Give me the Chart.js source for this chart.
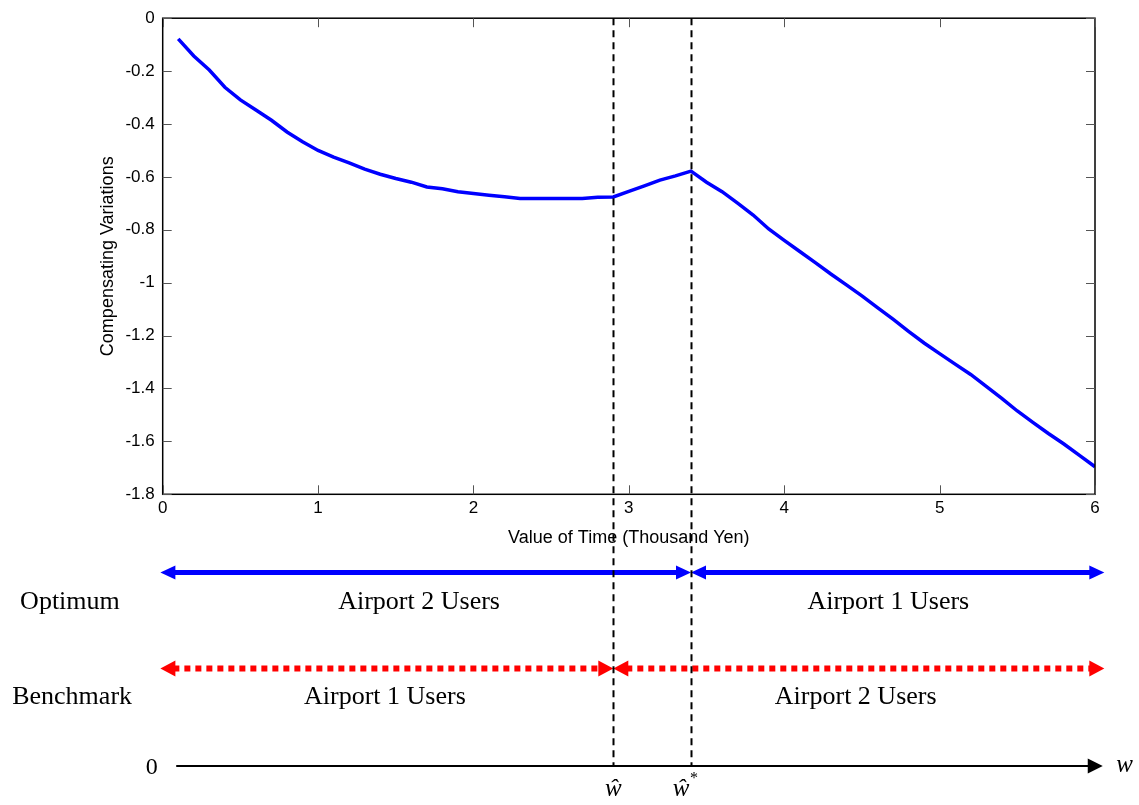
<!DOCTYPE html>
<html>
<head>
<meta charset="utf-8">
<script src="https://cdn.jsdelivr.net/npm/chart.js@4"></script>
<style>
  html, body { margin: 0; padding: 0; background: #fff; }
  canvas { display: block; }
</style>
</head>
<body>
<canvas id="myChart" width="1139" height="805"></canvas>
<script>
// value of time (thousand yen)
const valueOfTime = [0.1, 0.2, 0.3, 0.4, 0.5, 0.6, 0.7, 0.8, 0.9, 1.0,
  1.1, 1.2, 1.3, 1.4, 1.5, 1.6, 1.7, 1.8, 1.9, 2.0,
  2.1, 2.2, 2.3, 2.4, 2.5, 2.6, 2.7, 2.8, 2.9, 3.0,
  3.1, 3.2, 3.3, 3.4, 3.5, 3.6, 3.7, 3.8, 3.9, 4.0,
  4.1, 4.2, 4.3, 4.4, 4.5, 4.6, 4.7, 4.8, 4.9, 5.0,
  5.1, 5.2, 5.3, 5.4, 5.5, 5.6, 5.7, 5.8, 5.9, 6.0];

// compensating variations
const compVar = [-0.078, -0.143, -0.196, -0.261, -0.309, -0.347, -0.386, -0.430, -0.467, -0.500,
  -0.525, -0.547, -0.571, -0.590, -0.606, -0.620, -0.638, -0.645, -0.656, -0.663,
  -0.669, -0.675, -0.682, -0.682, -0.682, -0.682, -0.682, -0.677, -0.676, -0.655,
  -0.634, -0.612, -0.596, -0.578, -0.620, -0.656, -0.699, -0.744, -0.797, -0.840,
  -0.882, -0.924, -0.967, -1.008, -1.050, -1.094, -1.138, -1.184, -1.228, -1.268,
  -1.308, -1.347, -1.392, -1.437, -1.485, -1.528, -1.570, -1.610, -1.653, -1.696];

const xTicks = [0, 1, 2, 3, 4, 5, 6];
const yTicks = [0, -0.2, -0.4, -0.6, -0.8, -1, -1.2, -1.4, -1.6, -1.8];

// thresholds w-hat and w-hat*
const wHat = 2.9;
const wHatStar = 3.4;

// rows under the chart
const optimumSplit = [-0.015, wHatStar, 6.06];
const optimumLabels = ['Airport 2 Users', 'Airport 1 Users'];
const optimumLabelX = [1.65, 4.67];
const benchmarkSplit = [-0.015, wHat, 6.06];
const benchmarkLabels = ['Airport 1 Users', 'Airport 2 Users'];
const benchmarkLabelX = [1.43, 4.46];

const sans = "'Liberation Sans', Arial, sans-serif";
const serif = "'Liberation Serif', 'Times New Roman', serif";

function tri(ctx, tipX, y, dir, len, hh) {
  ctx.beginPath();
  ctx.moveTo(tipX, y);
  ctx.lineTo(tipX + dir * len, y - hh);
  ctx.lineTo(tipX + dir * len, y + hh);
  ctx.closePath();
  ctx.fill();
}

function arrow(ctx, x1, x2, y, o) {
  ctx.strokeStyle = o.color;
  ctx.fillStyle = o.color;
  ctx.lineWidth = o.width;
  ctx.setLineDash(o.dash || []);
  ctx.beginPath();
  ctx.moveTo(x1 + (o.left ? o.head - 2 : 0), y);
  ctx.lineTo(x2 - (o.right ? o.head - 2 : 0), y);
  ctx.stroke();
  ctx.setLineDash([]);
  if (o.left) tri(ctx, x1, y, 1, o.head, o.hh);
  if (o.right) tri(ctx, x2, y, -1, o.head, o.hh);
}

const overlay = {
  id: 'overlay',
  afterDraw(chart) {
    const { ctx, chartArea: a, scales: { x, y } } = chart;
    ctx.save();

    // box and inward ticks
    ctx.strokeStyle = '#000';
    ctx.lineWidth = 1.5;
    ctx.strokeRect(a.left, a.top, a.right - a.left, a.bottom - a.top);
    ctx.strokeStyle = '#555';
    ctx.lineWidth = 1;
    ctx.beginPath();
    x.ticks.forEach(t => {
      const px = Math.round(x.getPixelForValue(t.value)) + 0.5;
      ctx.moveTo(px, a.bottom); ctx.lineTo(px, a.bottom - 9);
      ctx.moveTo(px, a.top); ctx.lineTo(px, a.top + 9);
    });
    y.ticks.forEach(t => {
      const py = Math.round(y.getPixelForValue(t.value)) + 0.5;
      ctx.moveTo(a.left, py); ctx.lineTo(a.left + 9, py);
      ctx.moveTo(a.right, py); ctx.lineTo(a.right - 9, py);
    });
    ctx.stroke();

    const rowOpt = 572.5, rowBench = 668.5, rowAxis = 766;

    // blue solid arrows (optimum)
    for (let i = 0; i < optimumSplit.length - 1; i++) {
      arrow(ctx, x.getPixelForValue(optimumSplit[i]), x.getPixelForValue(optimumSplit[i + 1]), rowOpt,
        { color: '#0000ff', width: 5, head: 15, hh: 7, left: true, right: true });
    }
    // red dotted arrows (benchmark)
    for (let i = 0; i < benchmarkSplit.length - 1; i++) {
      arrow(ctx, x.getPixelForValue(benchmarkSplit[i]), x.getPixelForValue(benchmarkSplit[i + 1]), rowBench,
        { color: '#ff0000', width: 6, dash: [6, 5], head: 15, hh: 8, left: true, right: true });
    }
    // black w axis
    arrow(ctx, x.getPixelForValue(0.087), x.getPixelForValue(6.05), rowAxis,
      { color: '#000', width: 2, head: 15, hh: 7.5, left: false, right: true });

    // dashed thresholds
    ctx.strokeStyle = '#000';
    ctx.lineWidth = 2;
    ctx.setLineDash([7, 5]);
    [wHat, wHatStar].forEach(v => {
      const px = Math.round(x.getPixelForValue(v)) + 0.5;
      ctx.beginPath();
      ctx.moveTo(px, a.top);
      ctx.lineTo(px, rowAxis);
      ctx.stroke();
    });
    ctx.setLineDash([]);

    // texts
    ctx.fillStyle = '#000';
    ctx.textAlign = 'center';
    ctx.textBaseline = 'middle';
    ctx.font = '26px ' + serif;
    ctx.fillText('Optimum', x.getPixelForValue(-0.597), 602);
    ctx.fillText('Benchmark', x.getPixelForValue(-0.583), 697);
    optimumLabels.forEach((t, i) => ctx.fillText(t, x.getPixelForValue(optimumLabelX[i]), 602));
    benchmarkLabels.forEach((t, i) => ctx.fillText(t, x.getPixelForValue(benchmarkLabelX[i]), 697));
    ctx.font = '24px ' + serif;
    ctx.fillText('0', x.getPixelForValue(-0.07), 768);
    ctx.font = 'italic 25px ' + serif;
    ctx.fillText('w', x.getPixelForValue(6.19), 765);
    ctx.fillText('\u0175', x.getPixelForValue(wHat), 789);
    ctx.fillText('\u0175', x.getPixelForValue(wHatStar) - 10, 789);
    ctx.font = '16px ' + serif;
    ctx.fillText('*', x.getPixelForValue(wHatStar) + 3, 779);

    ctx.restore();
  }
};

const ctx = document.getElementById('myChart').getContext('2d');
const chart = new Chart(ctx, {
  type: 'line',
  data: {
    datasets: [{
      data: valueOfTime.map((v, i) => ({ x: v, y: compVar[i] })),
      borderColor: '#0000ff',
      borderWidth: 3.5,
      pointRadius: 0,
      tension: 0,
      fill: false
    }]
  },
  options: {
    responsive: false,
    animation: false,
    layout: { padding: { top: 15.5, right: 44, bottom: 255.7, left: 0 } },
    plugins: { legend: { display: false }, tooltip: { enabled: false } },
    scales: {
      x: {
        type: 'linear',
        min: 0,
        max: 6,
        afterBuildTicks: s => { s.ticks = xTicks.map(v => ({ value: v })); },
        afterFit: s => { s.height = 55; },
        grid: { display: false, drawTicks: false },
        border: { display: false },
        ticks: { padding: 4, color: '#000', font: { family: sans, size: 17 } },
        title: {
          display: true,
          text: 'Value of Time (Thousand Yen)',
          color: '#000',
          font: { family: sans, size: 18 },
          padding: { top: 2, bottom: 0 }
        }
      },
      y: {
        min: -1.8,
        max: 0,
        afterBuildTicks: s => { s.ticks = yTicks.map(v => ({ value: v })); },
        afterFit: s => { s.width = 162.7; },
        grid: { display: false, drawTicks: false },
        border: { display: false },
        ticks: {
          padding: 8,
          color: '#000',
          font: { family: sans, size: 17 },
          callback: v => String(+v.toFixed(1))
        },
        title: {
          display: true,
          text: 'Compensating Variations',
          color: '#000',
          font: { family: sans, size: 18 },
          padding: { top: 97, bottom: 0 }
        }
      }
    }
  },
  plugins: [overlay]
});
</script>
</body>
</html>
